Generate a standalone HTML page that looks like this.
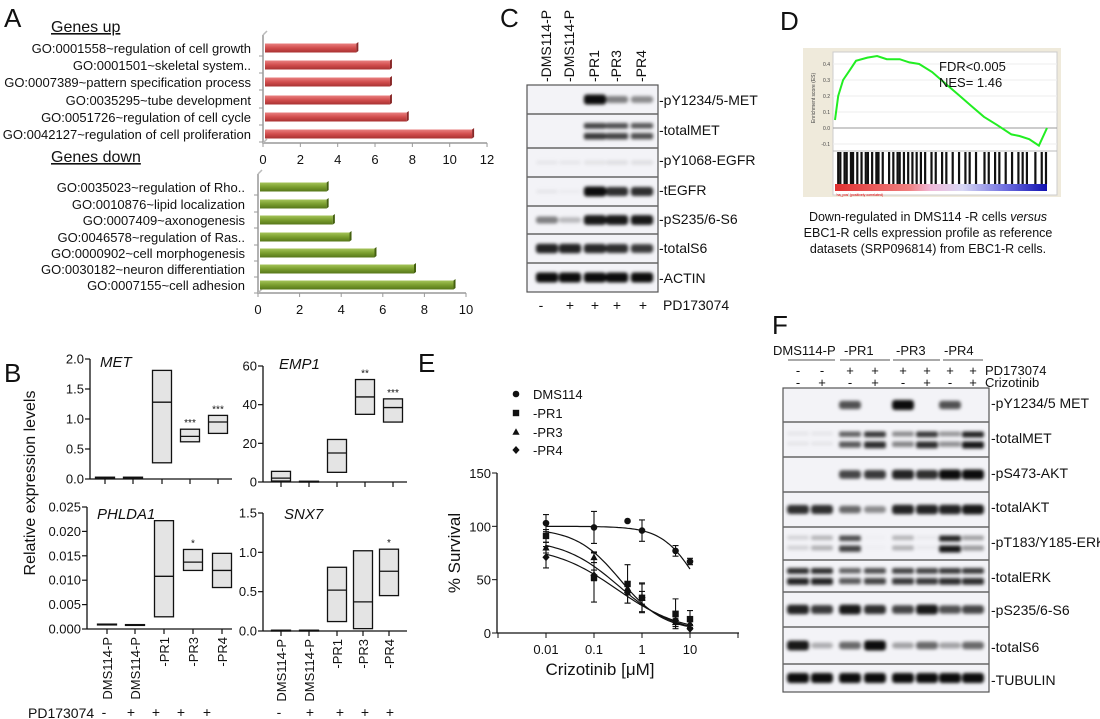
<!DOCTYPE html>
<html><head><meta charset="utf-8"><style>
body{margin:0;background:#fff}
svg{display:block;font-family:"Liberation Sans",Arial,sans-serif}
</style></head><body>
<svg id="fig" width="1100" height="719" viewBox="0 0 1100 719" xmlns="http://www.w3.org/2000/svg">
<defs>
<linearGradient id="gRed" x1="0" y1="0" x2="0" y2="1"><stop offset="0" stop-color="#e98080"/><stop offset="0.5" stop-color="#d24d4d"/><stop offset="1" stop-color="#a83232"/></linearGradient>
<linearGradient id="gGreen" x1="0" y1="0" x2="0" y2="1"><stop offset="0" stop-color="#a5c45a"/><stop offset="0.5" stop-color="#7a9e2e"/><stop offset="1" stop-color="#56761a"/></linearGradient>
<filter id="blur" x="-20%" y="-80%" width="140%" height="260%"><feGaussianBlur stdDeviation="1.6"/></filter>
<linearGradient id="gsea" x1="0" y1="0" x2="1" y2="0"><stop offset="0" stop-color="#e03030"/><stop offset="0.35" stop-color="#f08080"/><stop offset="0.45" stop-color="#f0b8d8"/><stop offset="0.6" stop-color="#d8d8f4"/><stop offset="0.8" stop-color="#7070e0"/><stop offset="1" stop-color="#1010b0"/></linearGradient>
</defs>
<g id="gA"></g>
<g id="gB"></g>
<g id="gC"></g>
<g id="gD"></g>
<g id="gE"></g>
<g id="gF"></g>
</svg>
<script>
// ---------- DATA ----------
const upTerms=["GO:0001558~regulation of cell growth","GO:0001501~skeletal system..","GO:0007389~pattern specification process","GO:0035295~tube development","GO:0051726~regulation of cell cycle","GO:0042127~regulation of cell proliferation"];
const upValues=[5.0,6.8,6.8,6.8,7.7,11.2];
const upTicks=[0,2,4,6,8,10,12];
const downTerms=["GO:0035023~regulation of Rho..","GO:0010876~lipid localization","GO:0007409~axonogenesis","GO:0046578~regulation of Ras..","GO:0000902~cell morphogenesis","GO:0030182~neuron differentiation","GO:0007155~cell adhesion"];
const downValues=[3.3,3.3,3.6,4.4,5.6,7.5,9.4];
const downTicks=[0,2,4,6,8,10];

const bCategories=["DMS114-P","DMS114-P","-PR1","-PR3","-PR4"];
const bTreatment=["-","+","+","+","+"];
const metMin=[0.01,0.01,0.27,0.62,0.76], metMean=[0.02,0.02,1.28,0.71,0.95], metMax=[0.03,0.03,1.81,0.83,1.06];
const metStars=["","","","***","***"], metTicks=[0,0.5,1.0,1.5,2.0];
const empMin=[0.5,0,5,35,31], empMean=[2,0.2,15,44,38.5], empMax=[5.5,0.4,22,53,43];
const empStars=["","","","**","***"], empTicks=[0,20,40,60];
const phlMin=[0.001,0.0009,0.0025,0.012,0.0085], phlMean=[0.001,0.0009,0.0108,0.0137,0.012], phlMax=[0.001,0.0009,0.0222,0.0163,0.0155];
const phlStars=["","","","*",""], phlTicks=[0,0.005,0.010,0.015,0.020,0.025];
const snxMin=[0.005,0.005,0.12,0.03,0.45], snxMean=[0.007,0.007,0.52,0.37,0.76], snxMax=[0.01,0.01,0.81,1.02,1.04];
const snxStars=["","","","","*"], snxTicks=[0,0.5,1.0,1.5];

const eDoses=[0.01,0.1,0.5,1,5,10];
const eSeries=["DMS114","-PR1","-PR3","-PR4"];
const eDMS=[103,99,105,96,77,67], eDMSerr=[8,15,0,10,5,3];
const ePR1=[91,52,46,33,18,13], ePR1err=[6,23,18,14,14,8];
const ePR3=[80,71,42,33,10,9], ePR3err=[5,5,6,6,4,4];
const ePR4=[71,54,38,33,12,4], ePR4err=[10,5,10,13,4,4];
const eTop=[100,98,88,82], eBottom=[0,2,0,0], eIC50=[14,0.35,0.33,0.3], eHill=[1.2,0.95,0.75,0.65];
const eYTicks=[0,50,100,150], eXTickLabels=["0.01","0.1","1","10"];

const cLanes=["-DMS114-P","-DMS114-P","-PR1","-PR3","-PR4"];
const cTreat=["-","+","+","+","+"];
const cRows=["-pY1234/5-MET","-totalMET","-pY1068-EGFR","-tEGFR","-pS235/6-S6","-totalS6","-ACTIN"];
const cBands=[[0,0,1,0.5,0.45],[0,0,0.85,0.8,0.75],[0.05,0.05,0.07,0.09,0.09],[0.05,0.03,1,0.85,0.85],[0.5,0.25,0.95,0.95,0.95],[0.9,0.9,0.88,0.85,0.8],[1,1,1,1,1]];

const dES=[0.05,0.2,0.3,0.36,0.42,0.44,0.45,0.43,0.43,0.41,0.40,0.35,0.28,0.21,0.14,0.07,0.02,-0.04,-0.05,-0.07,-0.11,0.0];
const dPos=[0,0.02,0.05,0.09,0.13,0.2,0.26,0.32,0.4,0.46,0.52,0.6,0.68,0.76,0.84,0.92,1.0,1.09,1.14,1.2,1.26,1.31];
const dHits=[0.01,0.02,0.04,0.05,0.07,0.08,0.1,0.12,0.14,0.15,0.17,0.19,0.2,0.22,0.25,0.27,0.29,0.3,0.32,0.34,0.36,0.38,0.4,0.42,0.45,0.47,0.5,0.52,0.55,0.58,0.61,0.63,0.66,0.7,0.72,0.75,0.77,0.8,0.83,0.86,0.88,0.9,0.94,0.97,0.99];

const fGroups=["DMS114-P","-PR1","-PR3","-PR4"];
const fPD=["-","-","+","+","+","+","+","+"];
const fCriz=["-","+","-","+","-","+","-","+"];
const fRows=["-pY1234/5 MET","-totalMET","-pS473-AKT","-totalAKT","-pT183/Y185-ERK","-totalERK","-pS235/6-S6","-totalS6","-TUBULIN"];
const fBands=[[0,0,0.7,0,1,0,0.7,0],[0.06,0.06,0.7,0.9,0.5,0.9,0.45,1],[0,0,0.75,0.8,0.9,0.85,1,1],[0.85,0.85,0.6,0.45,0.9,0.9,0.9,0.95],[0.15,0.3,0.8,0.02,0.3,0.05,1,0.4],[0.95,0.95,0.7,0.8,0.85,0.85,0.9,0.9],[0.9,0.8,0.95,0.85,0.75,0.95,0.7,0.75],[0.95,0.3,0.6,1,0.35,0.6,0.35,0.6],[1,1,1,1,1,1,1,1]];

// ---------- HELPERS ----------
const NS="http://www.w3.org/2000/svg";
function mk(parent,tag,attrs,text){const e=document.createElementNS(NS,tag);for(const k in attrs)e.setAttribute(k,attrs[k]);if(text!==undefined)e.textContent=text;parent.appendChild(e);return e;}
function T(parent,x,y,s,size,anchor,extra){const e=mk(parent,'text',Object.assign({x:x,y:y,'font-size':size,'text-anchor':anchor||'start',fill:'#111'},extra||{}),s);return e;}
const svg=document.getElementById('fig');
function letter(x,y,s){const e=T(svg,x,y,s,26,'start');}
letter(4,27,'A');letter(4,382,'B');letter(500,27,'C');letter(780,30,'D');letter(418,372,'E');letter(772,334,'F');

// ---------- PANEL A ----------
const gA=document.getElementById('gA');
function hbar(ys,terms,vals,ticks,x0,perUnit,axisY,topY,labelX,grad,cap,titleY,title,prefix){
  const sx=v=>x0+v*perUnit;
  const tt=T(gA,51,titleY,title,16,'start',{'text-decoration':'underline'});
  
  const ax=mk(gA,'path',{d:`M${x0} ${topY} L${x0} ${axisY} L${sx(ticks[ticks.length-1])} ${axisY}`,stroke:'#999',fill:'none','stroke-width':1.5});
  
  mk(gA,'path',{d:`M${x0} ${topY} l4 -4 M${x0} ${axisY} l4 -4`,stroke:'#bbb',fill:'none','stroke-width':1.5});
  ticks.forEach(t=>{mk(gA,'line',{x1:sx(t),x2:sx(t),y1:axisY,y2:axisY+4,stroke:'#999'});
    const l=T(gA,sx(t),axisY+21,String(t),13,'middle');});
  ys.forEach((y,i)=>{
    mk(gA,'line',{x1:x0-4,x2:x0,y1:y+8,y2:y+8,stroke:'#999'});
    const r=mk(gA,'rect',{x:x0+2,y:y-4.5,width:sx(vals[i])-x0-2,height:9,fill:'url(#'+grad+')'});
    
    mk(gA,'path',{d:`M${sx(vals[i])} ${y-4.5} l2 -1.5 l0 9 l-2 1.5z`,fill:cap});
    const l=T(gA,labelX,y+5,terms[i],13,'end');
  });
}
hbar([48,65,82,100,117,134],upTerms,upValues,upTicks,263,18.67,143,35,251,'gRed','#8a2828',32,'Genes up','genes-up');
hbar([187,204,220,237,253,269,285],downTerms,downValues,downTicks,258,20.8,293,174,245,'gGreen','#44600f',162,'Genes down','genes-down');

// ---------- PANEL B ----------
const gB=document.getElementById('gB');
function boxPlot(o){
  const g=mk(gB,'g',{});
  const sy=v=>o.y0-(v/o.vmax)*(o.y0-o.ytop);
  mk(g,'line',{x1:o.ax,x2:o.ax,y1:sy(o.ticks[o.ticks.length-1]),y2:o.y0,stroke:'#111','stroke-width':1.3});
  mk(g,'line',{x1:o.ax,x2:o.xend,y1:o.y0,y2:o.y0,stroke:'#111','stroke-width':1.3});
  o.ticks.forEach(t=>{mk(g,'line',{x1:o.ax-5,x2:o.ax,y1:sy(t),y2:sy(t),stroke:'#111','stroke-width':1.2});
    const l=T(g,o.ax-6,sy(t)+4.5,t.toFixed(o.dec),13,'end');});
  const tl=T(g,o.tx,o.ty,o.title,15,'start',{'font-style':'italic'});
  o.cx.forEach((x,i)=>{
    mk(g,'line',{x1:x,x2:x,y1:o.y0,y2:o.y0+5,stroke:'#111','stroke-width':1.2});
    const h=sy(o.mn[i])-sy(o.mx[i]);
    const b=mk(g,'rect',{x:x-9.5,y:sy(o.mx[i]),width:19,height:Math.max(h,0.8),fill:'#e4e4e4',stroke:'#111','stroke-width':1.3});
    
    mk(g,'line',{x1:x-9.5,x2:x+9.5,y1:sy(o.mean[i]),y2:sy(o.mean[i]),stroke:'#111','stroke-width':1.3});
    if(o.stars[i]){const s=T(g,x,sy(o.mx[i])-3,o.stars[i],10,'middle');}
    if(o.xl){const l=T(g,0,0,bCategories[i],13,'end',{transform:`translate(${x+5},${o.y0+8}) rotate(-90)`});}
  });
}
boxPlot({name:'met-plot',ax:90,xend:232,y0:479,ytop:359,vmax:2.0,ticks:metTicks,dec:1,cx:[105,133,162,190,218],mn:metMin,mean:metMean,mx:metMax,stars:metStars,title:'MET',tx:100,ty:367});
boxPlot({name:'emp1-plot',ax:263,xend:407,y0:482,ytop:366,vmax:60,ticks:empTicks,dec:0,cx:[281,309,337,365,393],mn:empMin,mean:empMean,mx:empMax,stars:empStars,title:'EMP1',tx:279,ty:369});
boxPlot({name:'phlda1-plot',ax:87,xend:232,y0:629,ytop:507,vmax:0.025,ticks:phlTicks,dec:3,cx:[107,135,164,193,222],mn:phlMin,mean:phlMean,mx:phlMax,stars:phlStars,title:'PHLDA1',tx:97,ty:519,xl:true});
boxPlot({name:'snx7-plot',ax:263,xend:407,y0:631,ytop:513,vmax:1.5,ticks:snxTicks,dec:1,cx:[281,309,337,363,389],mn:snxMin,mean:snxMean,mx:snxMax,stars:snxStars,title:'SNX7',tx:284,ty:519,xl:true});
{const l=T(gB,0,0,'Relative expression levels',16,'middle',{transform:'translate(35,483) rotate(-90)'});
const p=T(gB,28,718,'PD173074',14,'start');
[104,131,156,181,207].forEach((x,i)=>{const s=T(gB,x,717,bTreatment[i],14,'middle');});
[279,310,340,365,390].forEach((x,i)=>{const s=T(gB,x,717,bTreatment[i],14,'middle');});}

// ---------- BLOT HELPER ----------
function blot(g,x0,x1,bounds,laneX,rows,bands,labelX,labelY,dbl,prefix){
  mk(g,'rect',{x:x0,y:bounds[0],width:x1-x0,height:bounds[bounds.length-1]-bounds[0],fill:'#f3f3f7',stroke:'#555','stroke-width':1.2});
  const lw=(x1-x0)/laneX.length*0.85;
  rows.forEach((r,i)=>{
    const top=bounds[i],bot=bounds[i+1],cy=(top+bot)/2;
    if(i>0)mk(g,'line',{x1:x0,x2:x1,y1:top,y2:top,stroke:'#666','stroke-width':1.5});
    const rg=mk(g,'g',{filter:'url(#blur)'});
    
    laneX.forEach((x,j)=>{const v=bands[i][j];if(v<=0)return;
      const two=dbl.indexOf(i)>=0;
      if(two){mk(rg,'rect',{x:x-lw/2,y:cy-8,width:lw,height:4+v*2,fill:'#000','fill-opacity':v*0.85,rx:2});
              mk(rg,'rect',{x:x-lw/2,y:cy+2,width:lw,height:4+v*3,fill:'#000','fill-opacity':v*0.9,rx:2});}
      else mk(rg,'rect',{x:x-lw/2,y:cy-2-v*3,width:lw,height:4+v*6,fill:'#000','fill-opacity':Math.min(1,v*0.95),rx:3});
    });
    const l=T(g,labelX,labelY[i]+5,r,14,'start');
  });
}

// ---------- PANEL C ----------
const gC=document.getElementById('gC');
const cLaneX=[547,570,595,617,642];
cLanes.forEach((s,i)=>{const l=T(gC,0,0,s,14,'start',{transform:`translate(${cLaneX[i]+4},82) rotate(-90)`});});
blot(gC,527,658,[85,114,148,177,206,234,263,292],cLaneX,cRows,cBands,659,[100,130,160,190,219,248,278],[1],'blot-c');
[541,570,595,617,643].forEach((x,i)=>{const s=T(gC,x,310,cTreat[i],14,'middle');});
{const l=T(gC,663,310,'PD173074',14,'start');}

// ---------- PANEL D ----------
const gD=document.getElementById('gD');
{
mk(gD,'rect',{x:803,y:48,width:258,height:149,fill:'#efeadb'});
mk(gD,'rect',{x:833,y:52,width:224,height:143,fill:'#fff',stroke:'#ccc'});
const px0=835,px1=1047;
const sxD=p=>px0+(p/dPos[dPos.length-1])*(px1-px0);
const syD=v=>128-v*160;
[0.4,0.3,0.2,0.1,0.0,-0.1].forEach(v=>{mk(gD,'line',{x1:833,x2:1057,y1:syD(v),y2:syD(v),stroke:v===0?'#999':'#eee'});
  const l=T(gD,830,syD(v)+2,v.toFixed(1),5,'end',{fill:'#444'});});
const yl=T(gD,0,0,'Enrichment score (ES)',5,'middle',{transform:'translate(815,98) rotate(-90)',fill:'#444'});
mk(gD,'line',{x1:833,x2:1057,y1:151,y2:151,stroke:'#bbb'});
let d='';dES.forEach((v,i)=>{d+=(i?'L':'M')+sxD(dPos[i]).toFixed(1)+' '+syD(v).toFixed(1);});
const ln=mk(gD,'path',{d:d,stroke:'#22ee22','stroke-width':2,fill:'none'});
const hg=mk(gD,'g',{});
dHits.forEach(h=>{mk(hg,'rect',{x:px0+h*(px1-px0),y:152,width:2.2,height:32,fill:'#111'});});
const cb=mk(gD,'rect',{x:px0,y:184,width:px1-px0,height:7,fill:'url(#gsea)'});
T(gD,836,196,"'na_pos' (positively correlated)",3.5,'start',{fill:'#e00'});
const f1=T(gD,939,71,'FDR<0.005',13,'start');
const f2=T(gD,939,87,'NES= 1.46',13,'start');
const c1=mk(gD,'text',{x:928,y:221,'font-size':12.5,'text-anchor':'middle',fill:'#111'});
c1.innerHTML='Down-regulated in DMS114 -R cells <tspan font-style="italic">versus</tspan>';
T(gD,928,237,'EBC1-R cells expression profile as reference',12.5,'middle');
T(gD,928,253,'datasets (SRP096814) from EBC1-R cells.',12.5,'middle');
}

// ---------- PANEL E ----------
const gE=document.getElementById('gE');
{
const lx=v=>546+(Math.log10(v)+2)*48;
const ly=v=>633-v*(160/150);
mk(gE,'line',{x1:497,x2:497,y1:ly(150),y2:633,stroke:'#111','stroke-width':1.3});
mk(gE,'line',{x1:497,x2:739,y1:633,y2:633,stroke:'#111','stroke-width':1.3});
eYTicks.forEach(t=>{mk(gE,'line',{x1:492,x2:497,y1:ly(t),y2:ly(t),stroke:'#111'});
  const l=T(gE,491,ly(t)+5,String(t),13,'end');});
[0.001,0.01,0.1,1,10,100].forEach(v=>mk(gE,'line',{x1:lx(v),x2:lx(v),y1:633,y2:638,stroke:'#111'}));
eXTickLabels.forEach(s=>{const l=T(gE,lx(parseFloat(s)),654,s,13,'middle');});
const yt=T(gE,0,0,'% Survival',17,'middle',{transform:'translate(460,553) rotate(-90)'});
const xt=mk(gE,'text',{x:600,y:675,'font-size':17,'text-anchor':'middle',fill:'#111'});
xt.innerHTML='Crizotinib [<tspan>μ</tspan>M]';
const vals=[eDMS,ePR1,ePR3,ePR4],errs=[eDMSerr,ePR1err,ePR3err,ePR4err];
function marker(g,kind,x,y){
  if(kind===0)return mk(g,'circle',{cx:x,cy:y,r:3.3,fill:'#111'});
  if(kind===1)return mk(g,'rect',{x:x-3.2,y:y-3.2,width:6.4,height:6.4,fill:'#111'});
  if(kind===2)return mk(g,'path',{d:`M${x} ${y-3.8}L${x+3.6} ${y+2.8}L${x-3.6} ${y+2.8}z`,fill:'#111'});
  return mk(g,'path',{d:`M${x} ${y-4}L${x+3.6} ${y}L${x} ${y+4}L${x-3.6} ${y}z`,fill:'#111'});
}
eSeries.forEach((name,k)=>{
  const g=mk(gE,'g',{});
  let d='';for(let i=0;i<=60;i++){const lv=-2+i*3/60,v=Math.pow(10,lv);const y=eBottom[k]+(eTop[k]-eBottom[k])/(1+Math.pow(v/eIC50[k],eHill[k]));d+=(i?'L':'M')+lx(v).toFixed(1)+' '+ly(y).toFixed(1);}
  mk(g,'path',{d:d,stroke:'#111',fill:'none','stroke-width':1.2});
  eDoses.forEach((x,i)=>{const v=vals[k][i],e=errs[k][i];
    if(e>0){mk(g,'path',{d:`M${lx(x)} ${ly(v-e)}V${ly(v+e)}M${lx(x)-3} ${ly(v-e)}h6M${lx(x)-3} ${ly(v+e)}h6`,stroke:'#111','stroke-width':1.1,fill:'none'});}
    marker(g,k,lx(x),ly(v));});
  const ly2=[394,413,432,450][k];
  const lg=mk(gE,'g',{});
  marker(lg,k,516,ly2);T(lg,533,ly2+5,name,13,'start');
});
}

// ---------- PANEL F ----------
const gF=document.getElementById('gF');
{
const fx=[798,822,850,875,903,927,950,973];
const gx=[773,844,896,944];
fGroups.forEach((s,i)=>{const l=T(gF,gx[i],355,s,13,'start');});
[[788,835],[840,890],[893,940],[943,983]].forEach(s=>mk(gF,'line',{x1:s[0],x2:s[1],y1:360,y2:360,stroke:'#555'}));
fx.forEach((x,i)=>{T(gF,x,375,fPD[i],13,'middle');T(gF,x,387,fCriz[i],13,'middle');});
const p=T(gF,985,375,'PD173074',13,'start');
const c=T(gF,985,387,'Crizotinib',13,'start');
blot(gF,783,989,[388,422,457,492,527,560,592,627,664,692],fx,fRows,fBands,991,[403,438,473,507,542,577,610,647,680],[1,4,5],'blot-f');
}
</script>
</body></html>
